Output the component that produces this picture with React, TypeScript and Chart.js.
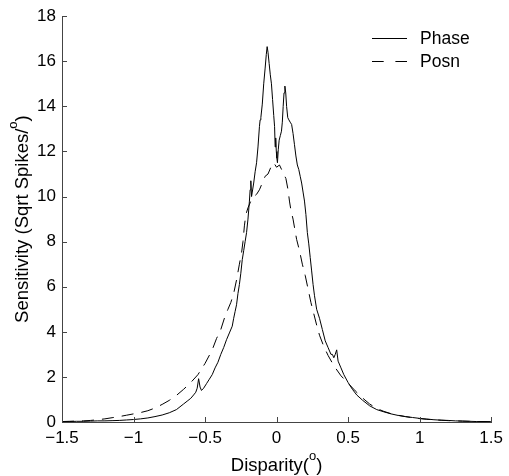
import React, { useEffect, useRef } from "react";
import { Chart, registerables } from "chart.js";

Chart.register(...registerables);

const seriesNames = ["Phase", "Posn"];

const phaseX = [
  -1.5, -1.45, -1.4, -1.35, -1.3, -1.25, -1.2, -1.15, -1.1, -1.05, -1.0, -0.95, -0.9, -0.85, -0.8, -0.75, -0.7, -0.65,
  -0.62, -0.6, -0.58, -0.565, -0.555, -0.545, -0.535, -0.525, -0.51, -0.49, -0.47, -0.45, -0.43, -0.41, -0.39, -0.37,
  -0.35, -0.33, -0.31, -0.3, -0.29, -0.28, -0.27, -0.26, -0.25, -0.24, -0.23, -0.22, -0.21, -0.2, -0.195, -0.19, -0.185,
  -0.18, -0.175, -0.17, -0.16, -0.15, -0.14, -0.13, -0.12, -0.115, -0.11, -0.1, -0.09, -0.08, -0.072, -0.066, -0.06,
  -0.052, -0.044, -0.036, -0.028, -0.02, -0.014, -0.01, -0.006, -0.002, 0.002, 0.006, 0.012, 0.018, 0.026, 0.034, 0.04,
  0.046, 0.052, 0.058, 0.064, 0.07, 0.078, 0.086, 0.095, 0.105, 0.115, 0.125, 0.135, 0.145, 0.155, 0.165, 0.175, 0.185,
  0.195, 0.205, 0.215, 0.225, 0.235, 0.245, 0.255, 0.265, 0.28, 0.3, 0.32, 0.34, 0.36, 0.38, 0.39, 0.4, 0.41, 0.42, 0.43,
  0.45, 0.47, 0.5, 0.53, 0.56, 0.6, 0.65, 0.7, 0.75, 0.8, 0.85, 0.9, 0.95, 1.0, 1.05, 1.1, 1.15, 1.2, 1.25, 1.3, 1.35,
  1.4, 1.45, 1.5,
];
const phaseY = [
  0.02, 0.02, 0.03, 0.03, 0.04, 0.05, 0.05, 0.06, 0.07, 0.09, 0.11, 0.14, 0.18, 0.24, 0.31, 0.41, 0.55, 0.8,
  0.95, 1.05, 1.2, 1.32, 1.5, 1.92, 1.55, 1.4, 1.5, 1.7, 1.9, 2.1, 2.4, 2.65, 3.0, 3.3,
  3.65, 3.95, 4.25, 4.6, 4.9, 5.2, 5.7, 6.1, 6.6, 7.2, 7.6, 8.0, 8.4, 9.0, 9.4, 9.8, 10.3,
  10.7, 10.0, 10.2, 10.6, 11.1, 11.5, 12.2, 13.1, 13.4, 13.5, 14.1, 15.0, 15.7, 16.3, 16.65, 16.4,
  15.9, 15.4, 15.0, 14.3, 13.6, 13.1, 12.2, 12.6, 12.0, 11.7, 11.5, 12.1, 12.5, 12.7, 12.9, 13.3,
  14.0, 14.6, 14.9, 14.6, 14.0, 13.5, 13.4, 13.3, 13.2, 12.8, 12.3, 11.8, 11.4, 11.2, 10.9, 10.6, 10.2,
  9.8, 9.2, 8.4, 7.9, 7.3, 6.7, 6.1, 5.6, 5.0, 4.6, 4.1, 3.6, 3.3, 3.0, 3.0, 2.85, 3.0, 3.2, 2.7,
  2.4, 2.1, 1.75, 1.45, 1.2, 0.97, 0.72, 0.55, 0.45, 0.36, 0.29, 0.24, 0.2, 0.16, 0.13, 0.1, 0.08, 0.07, 0.05, 0.04, 0.03,
  0.02, 0.02, 0.01,
];

const posnX = [
  -1.5, -1.45, -1.4, -1.35, -1.3, -1.25, -1.2, -1.15, -1.1, -1.05, -1.0, -0.95, -0.9, -0.85, -0.8, -0.75, -0.7, -0.65,
  -0.6, -0.55, -0.5, -0.45, -0.42, -0.39, -0.36, -0.34, -0.32, -0.3, -0.28, -0.26, -0.245, -0.235, -0.225, -0.215, -0.2,
  -0.18, -0.16, -0.14, -0.12, -0.1, -0.08, -0.06, -0.04, -0.02, 0.0, 0.02, 0.035, 0.05, 0.065, 0.08, 0.09, 0.1, 0.115,
  0.126, 0.14, 0.16, 0.18, 0.2, 0.22, 0.24, 0.26, 0.28, 0.3, 0.33, 0.36, 0.4, 0.45, 0.5, 0.55, 0.6, 0.65, 0.7, 0.75, 0.8,
  0.85, 0.9, 0.95, 1.0, 1.05, 1.1, 1.15, 1.2, 1.25, 1.3, 1.35, 1.4, 1.45, 1.5,
];
const posnY = [
  0.02, 0.03, 0.04, 0.05, 0.07, 0.1, 0.14, 0.19, 0.24, 0.3, 0.36, 0.42, 0.5, 0.62, 0.78, 0.96, 1.18, 1.45,
  1.75, 2.1, 2.6, 3.2, 3.7, 4.1, 4.7, 5.0, 5.3, 5.7, 6.3, 7.0, 7.5, 8.0, 8.7, 9.2, 9.5,
  9.8, 10.0, 10.1, 10.3, 10.6, 10.9, 11.0, 11.3, 11.5, 11.3, 11.4, 11.2, 11.0, 10.8, 10.3, 9.8, 9.4, 9.0,
  8.6, 8.1, 7.6, 7.0, 6.5, 5.9, 5.3, 4.8, 4.3, 3.85, 3.35, 2.95, 2.5, 2.05, 1.72, 1.38, 1.07, 0.8, 0.6, 0.47, 0.37,
  0.3, 0.24, 0.19, 0.15, 0.12, 0.1, 0.08, 0.06, 0.05, 0.04, 0.03, 0.02, 0.02, 0.01,
];

const xTicks = [-1.5, -1, -0.5, 0, 0.5, 1, 1.5];
const yTicks = [0, 2, 4, 6, 8, 10, 12, 14, 16, 18];

const FONT = '"Liberation Sans", Arial, Helvetica, sans-serif';
const AXIS = "#444";
const DASH = [12, 8];
const TICK_SIZE = 17;
const TITLE_SIZE = 18.5;
const LEGEND_SIZE = 17.5;

function fmt(v: number): string {
  return String(v).replace("-", "\u2212");
}

function drawSupText(ctx: CanvasRenderingContext2D, parts: [string, string, string], cx: number, baseY: number) {
  const big = `${TITLE_SIZE}px ${FONT}`;
  const small = `13px ${FONT}`;
  ctx.font = big;
  const w0 = ctx.measureText(parts[0]).width;
  const w2 = ctx.measureText(parts[2]).width;
  ctx.font = small;
  const w1 = ctx.measureText(parts[1]).width;
  const total = w0 + w1 + w2;
  let x = cx - total / 2;
  ctx.textAlign = "left";
  ctx.textBaseline = "alphabetic";
  ctx.font = big;
  ctx.fillText(parts[0], x, baseY);
  x += w0;
  ctx.font = small;
  ctx.fillText(parts[1], x, baseY - 11);
  x += w1;
  ctx.font = big;
  ctx.fillText(parts[2], x, baseY);
}

export default function App() {
  const ref = useRef<HTMLCanvasElement>(null);

  useEffect(() => {
    document.body.style.margin = "0";
    const canvas = ref.current;
    if (!canvas) return;

    const decor = {
      id: "decor",
      afterDraw(chart: any) {
        const ctx: CanvasRenderingContext2D = chart.ctx;
        const xs = chart.scales.x;
        const ys = chart.scales.y;
        const area = chart.chartArea;
        ctx.save();
        // inward tick marks
        ctx.strokeStyle = AXIS;
        ctx.lineWidth = 1;
        ctx.setLineDash([]);
        ctx.beginPath();
        xTicks.forEach((v) => {
          const px = Math.round(xs.getPixelForValue(v)) + 0.5;
          ctx.moveTo(px, area.bottom);
          ctx.lineTo(px, area.bottom - 5);
        });
        yTicks.forEach((v) => {
          const py = Math.round(ys.getPixelForValue(v)) + 0.5;
          ctx.moveTo(area.left, py);
          ctx.lineTo(area.left + 5, py);
        });
        ctx.stroke();

        // legend
        ctx.strokeStyle = "#000";
        ctx.fillStyle = "#000";
        ctx.font = `${LEGEND_SIZE}px ${FONT}`;
        ctx.textAlign = "left";
        ctx.textBaseline = "middle";
        const lx0 = 372;
        const lx1 = 407;
        const rows = [38.5, 61.5];
        seriesNames.forEach((name, i) => {
          ctx.beginPath();
          ctx.setLineDash(i === 0 ? [] : [11.7, 11.7]);
          ctx.moveTo(lx0, rows[i]);
          ctx.lineTo(lx1, rows[i]);
          ctx.stroke();
          ctx.fillText(name, 420, rows[i] + 1);
        });
        ctx.setLineDash([]);

        // x title
        drawSupText(ctx, ["Disparity(", "o", ")"], (area.left + area.right) / 2, 471);
        // y title
        ctx.save();
        ctx.translate(28, (area.top + area.bottom) / 2);
        ctx.rotate(-Math.PI / 2);
        drawSupText(ctx, ["Sensitivity (Sqrt Spikes/", "o", ")"], 0, 0);
        ctx.restore();

        ctx.restore();
      },
    };

    const chart = new Chart(canvas, {
      type: "line",
      data: {
        datasets: [
          {
            label: seriesNames[0],
            data: phaseX.map((x, i) => ({ x, y: phaseY[i] })),
            borderColor: "#000",
            borderWidth: 1,
            pointRadius: 0,
            tension: 0,
            fill: false,
          },
          {
            label: seriesNames[1],
            data: posnX.map((x, i) => ({ x, y: posnY[i] })),
            borderColor: "#000",
            borderWidth: 1,
            borderDash: DASH,
            pointRadius: 0,
            tension: 0,
            fill: false,
          },
        ],
      },
      options: {
        animation: false,
        responsive: false,
        devicePixelRatio: 1,
        layout: { padding: { left: 0, top: 15, right: 14, bottom: 0 } },
        plugins: {
          legend: { display: false },
          tooltip: { enabled: false },
        },
        scales: {
          x: {
            type: "linear",
            min: -1.5,
            max: 1.5,
            afterBuildTicks: (s: any) => {
              s.ticks = xTicks.map((v) => ({ value: v }));
            },
            afterFit: (s: any) => {
              s.height = 54;
            },
            grid: { display: true, drawOnChartArea: false, drawTicks: false },
            border: { display: true, color: AXIS, width: 1 },
            ticks: {
              padding: 6,
              color: "#000",
              font: { family: FONT, size: TICK_SIZE },
              maxRotation: 0,
              autoSkip: false,
              callback: (v: any) => fmt(Number(v)),
            },
          },
          y: {
            type: "linear",
            min: 0,
            max: 18,
            afterBuildTicks: (s: any) => {
              s.ticks = yTicks.map((v) => ({ value: v }));
            },
            afterFit: (s: any) => {
              s.width = 62;
            },
            grid: { display: true, drawOnChartArea: false, drawTicks: false },
            border: { display: true, color: AXIS, width: 1 },
            ticks: {
              padding: 6,
              color: "#000",
              font: { family: FONT, size: TICK_SIZE },
              autoSkip: false,
              callback: (v: any) => fmt(Number(v)),
            },
          },
        },
      },
      plugins: [decor],
    });

    return () => chart.destroy();
  }, []);

  return (
    <div style={{ width: 509, height: 476, background: "#fff" }}>
      <canvas ref={ref} width={509} height={476} style={{ display: "block" }} />
    </div>
  );
}
